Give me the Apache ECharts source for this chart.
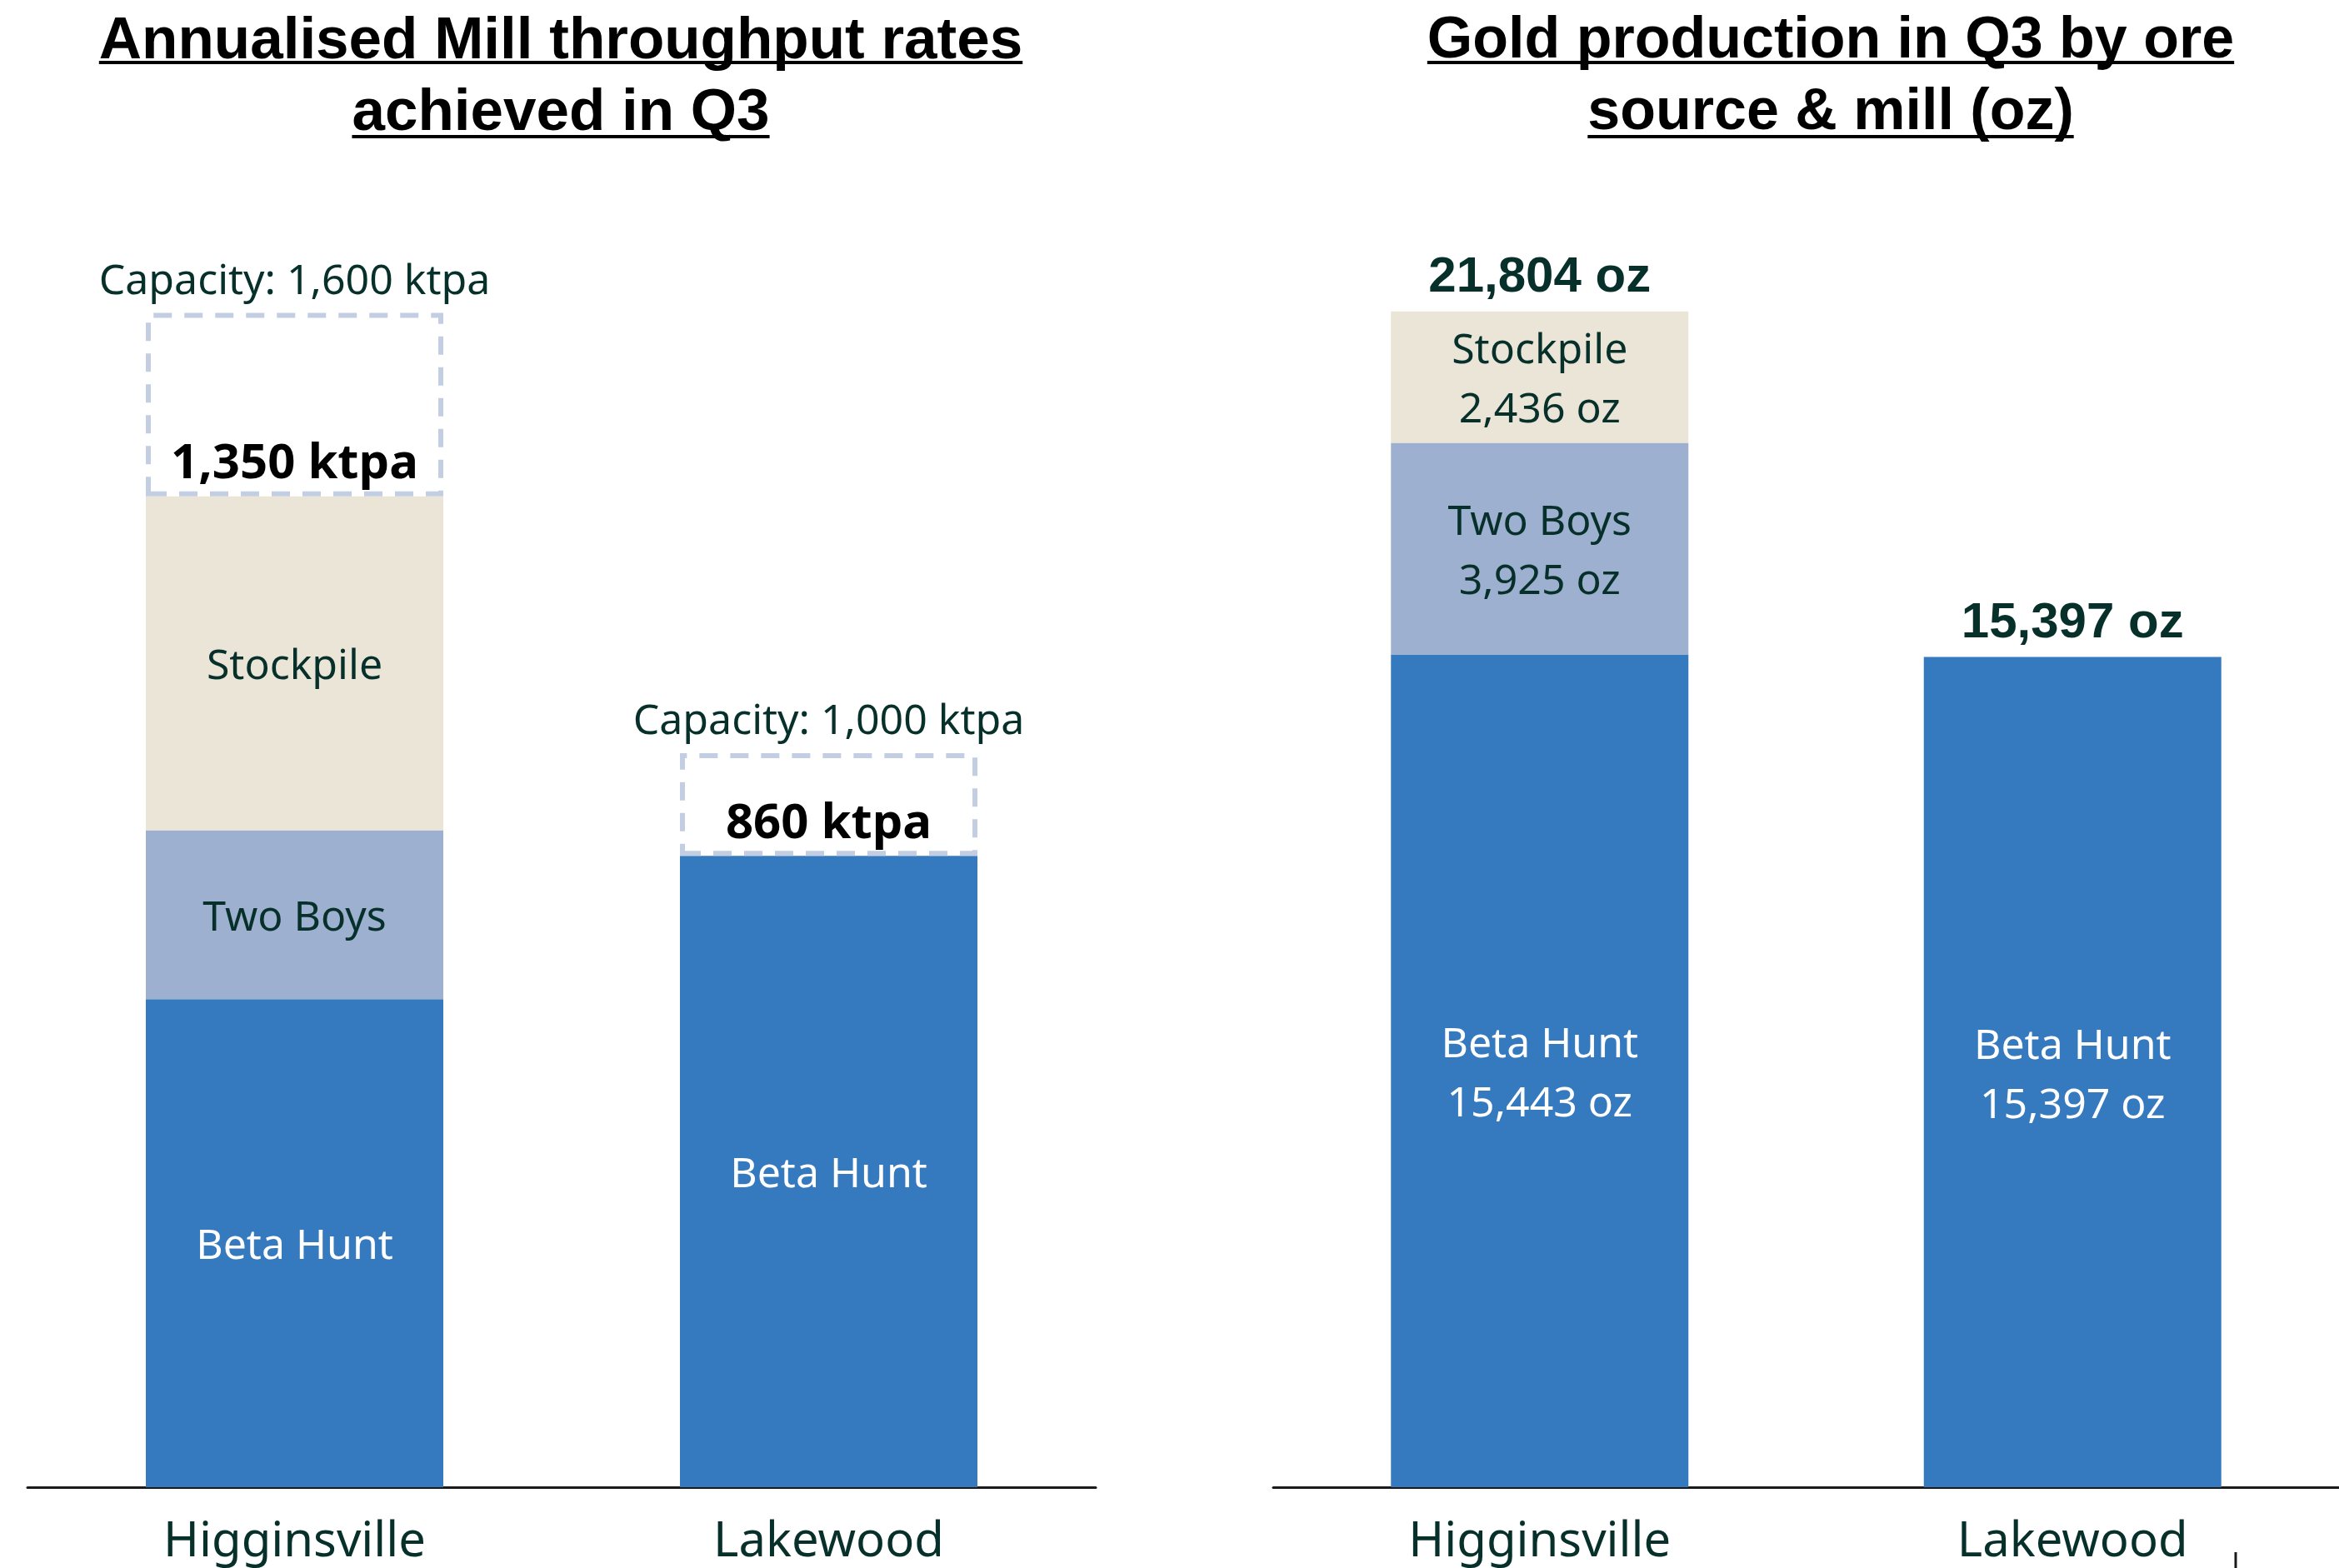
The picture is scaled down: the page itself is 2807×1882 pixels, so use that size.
<!DOCTYPE html>
<html>
<head>
<meta charset="utf-8">
<script src="https://cdn.jsdelivr.net/npm/echarts@6/dist/echarts.min.js"></script>
<style>
html,body{margin:0;padding:0;background:#fff;}
#chart{width:2807px;height:1882px;}
</style>
</head>
<body>
<div id="chart"></div>
<script>
// ---- Data ----
const categories = ['Higginsville', 'Lakewood'];
const millBetaHunt = [665, 860];
const millTwoBoys = [230, 0];
const millStockpile = [455, 0];
const millCapacity = [1600, 1000];
const goldBetaHunt = [15443, 15397];
const goldTwoBoys = [3925, 0];
const goldStockpile = [2436, 0];
const titleLeft = ['Annualised Mill throughput rates', 'achieved in Q3'];
const titleRight = ['Gold production in Q3 by ore', 'source & mill (oz)'];

// ---- Styles ----
const C_BETA = '#3579BE';
const C_TWO = '#9DB0CF';
const C_STOCK = '#EBE5D8';
const C_DASH = '#C3CEE2';
const DARK = '#07302B';
const FONT = '"Noto Sans", "Open Sans", sans-serif';
const BAR_W = 357;

const fmt = v => Number(v).toLocaleString('en-US');
const millTotal = categories.map((_, i) => millBetaHunt[i] + millTwoBoys[i] + millStockpile[i]);
const goldTotal = categories.map((_, i) => goldBetaHunt[i] + goldTwoBoys[i] + goldStockpile[i]);
const headroom = categories.map((_, i) => millCapacity[i] - millTotal[i]);

function seg(name, data, color, textColor, axis, withValue) {
  return {
    name: name, type: 'bar', stack: 'tot' + axis,
    xAxisIndex: axis, yAxisIndex: axis,
    barWidth: BAR_W, data: data,
    itemStyle: { color: color },
    emphasis: { disabled: true },
    label: {
      show: true, position: 'inside', offset: [0, 5],
      color: textColor, fontFamily: FONT, fontSize: 50, lineHeight: 71,
      formatter: p => p.value ? (withValue ? name + '\n' + fmt(p.value) + ' oz' : name) : ''
    }
  };
}

const series = [
  seg('Beta Hunt', millBetaHunt, C_BETA, '#FFFFFF', 0, false),
  seg('Two Boys', millTwoBoys, C_TWO, DARK, 0, false),
  seg('Stockpile', millStockpile, C_STOCK, DARK, 0, false),
  {
    name: 'Total', type: 'bar', stack: 'tot0', xAxisIndex: 0, yAxisIndex: 0,
    barWidth: BAR_W, data: categories.map(() => 0),
    itemStyle: { color: 'rgba(0,0,0,0)' }, emphasis: { disabled: true },
    label: {
      show: true, position: 'top', distance: 9,
      color: '#000', fontFamily: FONT, fontWeight: 'bold', fontSize: 58,
      formatter: p => fmt(millTotal[p.dataIndex]) + ' ktpa'
    }
  },
  {
    name: 'Capacity', type: 'bar', stack: 'tot0', xAxisIndex: 0, yAxisIndex: 0,
    barWidth: BAR_W, data: headroom, z: 3,
    itemStyle: { color: 'rgba(0,0,0,0)', borderColor: C_DASH, borderWidth: 6, borderType: [22, 15] },
    emphasis: { disabled: true },
    label: {
      show: true, position: 'top', distance: 12,
      color: DARK, fontFamily: FONT, fontSize: 50,
      formatter: p => 'Capacity: ' + fmt(millCapacity[p.dataIndex]) + ' ktpa'
    }
  },
  seg('Beta Hunt', goldBetaHunt, C_BETA, '#FFFFFF', 1, true),
  seg('Two Boys', goldTwoBoys, C_TWO, DARK, 1, true),
  seg('Stockpile', goldStockpile, C_STOCK, DARK, 1, true),
  {
    name: 'Total oz', type: 'bar', stack: 'tot1', xAxisIndex: 1, yAxisIndex: 1,
    barWidth: BAR_W, data: categories.map(() => 0),
    itemStyle: { color: 'rgba(0,0,0,0)' }, emphasis: { disabled: true },
    label: {
      show: true, position: 'top', distance: 10,
      color: DARK, fontFamily: '"Liberation Sans", Arial, sans-serif', fontWeight: 'bold', fontSize: 60,
      formatter: p => fmt(goldTotal[p.dataIndex]) + ' oz'
    }
  }
];

function axisX(gi) {
  return {
    type: 'category', gridIndex: gi, data: categories,
    axisLine: { show: true, lineStyle: { color: '#1A1A1A', width: 3 } },
    axisTick: { show: false },
    axisLabel: { color: DARK, fontFamily: FONT, fontSize: 58, margin: 37 }
  };
}
function axisY(gi, max) {
  return {
    type: 'value', gridIndex: gi, min: 0, max: max,
    axisLine: { show: false }, axisTick: { show: false },
    axisLabel: { show: false }, splitLine: { show: false }
  };
}

// ---- Titles with underline ----
const TITLE_FONT_FAMILY = '"Liberation Sans", Arial, sans-serif';
const graphics = [];
function addTitle(lines, cx, size) {
  const ctx = document.createElement('canvas').getContext('2d');
  const font = 'bold ' + size + 'px ' + TITLE_FONT_FAMILY;
  ctx.font = font;
  const ys = [50, 136];
  const uy = [75, 164];
  lines.forEach((t, i) => {
    graphics.push({
      type: 'text', x: cx, y: ys[i], silent: true,
      style: { text: t, fill: '#000', align: 'center', verticalAlign: 'middle', font: font }
    });
    const w = ctx.measureText(t).width;
    graphics.push({
      type: 'line', silent: true,
      shape: { x1: cx - w / 2, y1: uy[i], x2: cx + w / 2, y2: uy[i] },
      style: { stroke: '#000', lineWidth: 4 }
    });
  });
}
addTitle(titleLeft, 673, 71);
addTitle(titleRight, 2197, 70);
graphics.push({ type: 'line', silent: true, shape: { x1: 2683, y1: 1863, x2: 2683, y2: 1882 }, style: { stroke: '#1A1A1A', lineWidth: 3 } });

const chart = echarts.init(document.getElementById('chart'), null, { renderer: 'canvas' });
chart.setOption({
  animation: false,
  backgroundColor: '#FFFFFF',
  grid: [
    { left: 33, width: 1282, top: 23, bottom: 97 },
    { left: 1528, width: 1281, top: 167, bottom: 97 }
  ],
  xAxis: [axisX(0), axisX(1)],
  yAxis: [axisY(0, 2000), axisY(1, 25000)],
  series: series,
  graphic: graphics
});
</script>
</body>
</html>
